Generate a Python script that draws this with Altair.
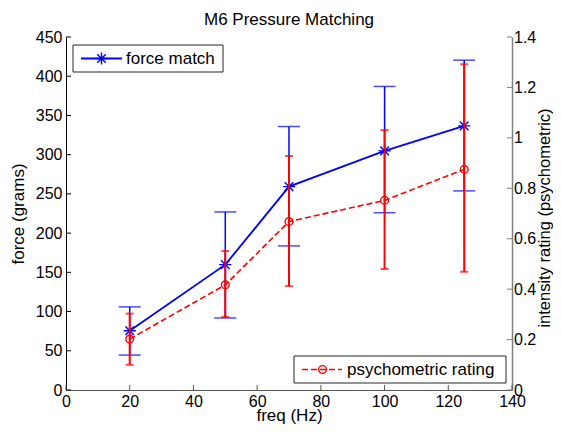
import altair as alt
import pandas as pd

# ---- data ----
freq = [20, 50, 70, 100, 125]
force = [75.6, 159.8, 259.3, 304.8, 336.7]
force_lo = [44.5, 91.8, 183.7, 226.0, 253.8]
force_hi = [106.0, 227.0, 335.9, 387.0, 420.5]
rating = [0.202, 0.417, 0.668, 0.752, 0.875]
rating_lo = [0.100, 0.290, 0.412, 0.480, 0.469]
rating_hi = [0.303, 0.551, 0.928, 1.031, 1.292]

x_ticks = [0, 20, 40, 60, 80, 100, 120, 140]
force_ticks = [0, 50, 100, 150, 200, 250, 300, 350, 400, 450]
rating_ticks = [0, 0.2, 0.4, 0.6, 0.8, 1.0, 1.2, 1.4]

FONT = "Liberation Sans"
FS = 17
LFS = 16
BLUE = "#0000ff"
RED = "#ff0000"
W, H = 446, 353

df = pd.DataFrame(dict(freq=freq, force=force, force_lo=force_lo, force_hi=force_hi,
                       rating=rating, rating_lo=rating_lo, rating_hi=rating_hi))
xt = pd.DataFrame(dict(xt=x_ticks))
ft = pd.DataFrame(dict(force=force_ticks))
rt = pd.DataFrame(dict(rating=rating_ticks))
one = pd.DataFrame(dict(a=[0]))

xscale = alt.Scale(domain=[0, 140], nice=False)
ls = alt.Scale(domain=[0, 450], nice=False)
rs = alt.Scale(domain=[0, 1.4], nice=False)

xaxis = alt.Axis(values=x_ticks, title="freq (Hz)", ticks=False, grid=False,
                 domainColor="#555555", labelFlush=False, labelPadding=3,
                 labelFont=FONT, labelFontSize=LFS, labelColor="#000000",
                 titleFont=FONT, titleFontSize=FS, titleFontWeight="normal",
                 titleColor="#000000", titleX=W / 2, titleY=30, titleAlign="center",
                 titleBaseline="alphabetic", labelOverlap=False)
laxis = alt.Axis(values=force_ticks, title="force (grams)", orient="left", ticks=False,
                 grid=False, domainColor="#000000", labelPadding=4, labelFlush=False,
                 labelFont=FONT, labelFontSize=LFS, labelColor="#000000",
                 titleFont=FONT, titleFontSize=FS, titleFontWeight="normal",
                 titleColor="#000000", titlePadding=8, labelOverlap=False)
raxis = alt.Axis(values=rating_ticks, title="intensity rating (psychometric)", orient="right",
                 ticks=False, grid=False, domainColor="#808080", domainWidth=1.5,
                 labelPadding=1.5, labelFlush=False,
                 labelExpr="datum.value == 1 ? '1' : datum.value == 0 ? '0' : format(datum.value, '.1f')",
                 labelFont=FONT, labelFontSize=LFS, labelColor="#000000",
                 titleFont=FONT, titleFontSize=16.5, titleFontWeight="normal",
                 titleColor="#000000", titleAngle=270, titleX=37.5, titleY=H / 2 + 4,
                 titleAlign="center", titleBaseline="alphabetic", labelOverlap=False)

X = alt.X("freq:Q", scale=xscale, axis=xaxis)

# ---- blue (left axis) ----
b_rule = alt.Chart(df).mark_rule(color=BLUE, strokeWidth=1.5).encode(
    x=X, y=alt.Y("force_lo:Q", scale=ls, axis=laxis), y2="force_hi:Q")
b_cap_lo = alt.Chart(df).mark_tick(color=BLUE, orient="horizontal", size=22, thickness=1.5).encode(
    x=X, y=alt.Y("force_lo:Q", scale=ls, axis=laxis))
b_cap_hi = alt.Chart(df).mark_tick(color=BLUE, orient="horizontal", size=22, thickness=1.5).encode(
    x=X, y=alt.Y("force_hi:Q", scale=ls, axis=laxis))
b_line = alt.Chart(df).mark_line(color=BLUE, strokeWidth=1.8).encode(
    x=X, y=alt.Y("force:Q", scale=ls, axis=laxis))
STAR = "M-1,0L1,0M0,-1L0,1M-0.7,-0.7L0.7,0.7M-0.7,0.7L0.7,-0.7"
b_pts = alt.Chart(df).mark_point(shape=STAR, filled=False, size=150, color=BLUE,
                                 strokeWidth=1.4, opacity=1).encode(
    x=X, y=alt.Y("force:Q", scale=ls, axis=laxis))
l_ticks = alt.Chart(ft).mark_rule(color="#000000", strokeWidth=1).encode(
    y=alt.Y("force:Q", scale=ls, axis=laxis), x=alt.value(0), x2=alt.value(5))
x_tk = alt.Chart(xt).mark_rule(color="#555555", strokeWidth=1).encode(
    x=alt.X("xt:Q", scale=xscale, axis=xaxis), y=alt.value(H), y2=alt.value(H - 5))

blue = alt.layer(b_rule, b_cap_lo, b_cap_hi, b_line, b_pts, l_ticks, x_tk)

# ---- red (right axis) ----
r_rule = alt.Chart(df).mark_rule(color=RED, strokeWidth=2).encode(
    x=X, y=alt.Y("rating_lo:Q", scale=rs, axis=raxis), y2="rating_hi:Q")
r_cap_lo = alt.Chart(df).mark_tick(color=RED, orient="horizontal", size=8, thickness=2).encode(
    x=X, y=alt.Y("rating_lo:Q", scale=rs, axis=raxis))
r_cap_hi = alt.Chart(df).mark_tick(color=RED, orient="horizontal", size=8, thickness=2).encode(
    x=X, y=alt.Y("rating_hi:Q", scale=rs, axis=raxis))
r_line = alt.Chart(df).mark_line(color=RED, strokeWidth=1.6, strokeDash=[6, 3]).encode(
    x=X, y=alt.Y("rating:Q", scale=rs, axis=raxis))
r_pts = alt.Chart(df).mark_point(shape="circle", filled=False, size=60, color=RED,
                                 strokeWidth=1.4, opacity=1).encode(
    x=X, y=alt.Y("rating:Q", scale=rs, axis=raxis))
r_ticks = alt.Chart(rt).mark_rule(color="#808080", strokeWidth=1).encode(
    y=alt.Y("rating:Q", scale=rs, axis=raxis), x=alt.value(W - 5), x2=alt.value(W))

red = alt.layer(r_rule, r_cap_lo, r_cap_hi, r_line, r_pts, r_ticks)

# ---- legends ----
base = alt.Chart(one)
leg1 = alt.layer(
    base.mark_rect(fill="white", stroke="#262626", strokeWidth=1).encode(
        x=alt.value(7), x2=alt.value(157), y=alt.value(8), y2=alt.value(35)),
    base.mark_rule(color=BLUE, strokeWidth=1.8).encode(
        x=alt.value(15), x2=alt.value(56), y=alt.value(21.5)),
    base.mark_point(shape=STAR, filled=False, size=150, color=BLUE, strokeWidth=1.4, opacity=1).encode(
        x=alt.value(35.5), y=alt.value(21.5)),
    base.mark_text(text="force match", font=FONT, fontSize=FS, align="left",
                   baseline="middle", color="#000000").encode(
        x=alt.value(60), y=alt.value(22)),
)
leg2 = alt.layer(
    base.mark_rect(fill="white", stroke="#262626", strokeWidth=1).encode(
        x=alt.value(228), x2=alt.value(440), y=alt.value(319), y2=alt.value(346)),
    base.mark_rule(color=RED, strokeWidth=1.6, strokeDash=[6, 3]).encode(
        x=alt.value(236), x2=alt.value(276), y=alt.value(332.5)),
    base.mark_point(shape="circle", filled=False, size=60, color=RED, strokeWidth=1.4, opacity=1).encode(
        x=alt.value(256.5), y=alt.value(332.5)),
    base.mark_text(text="psychometric rating", font=FONT, fontSize=FS, align="left",
                   baseline="middle", color="#000000").encode(
        x=alt.value(281), y=alt.value(333)),
)

chart = alt.layer(blue, red, leg1, leg2).resolve_scale(y="independent").properties(
    width=W, height=H,
    title=alt.TitleParams("M6 Pressure Matching", font=FONT, fontSize=FS,
                          fontWeight="normal", color="#000000", anchor="middle", offset=0),
    autosize=alt.AutoSizeParams(type="none"),
    padding={"left": 58, "top": 29, "right": 41, "bottom": 34},
    background="white",
).configure_view(stroke=None)

chart.save("out.html", embed_options={"renderer": "svg", "actions": False})
